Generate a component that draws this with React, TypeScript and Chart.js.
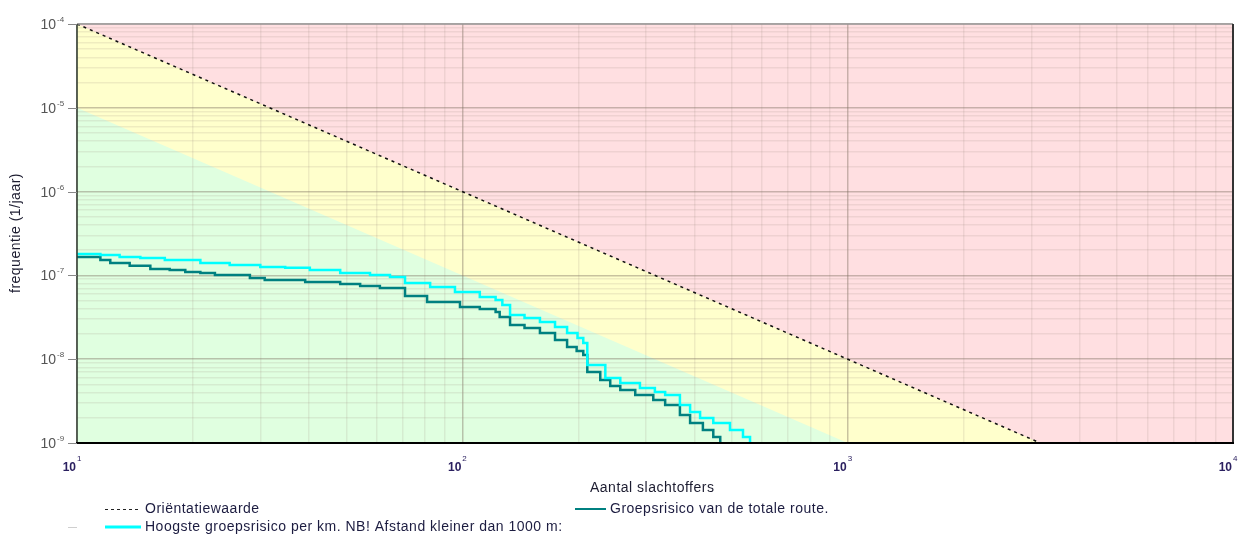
import React, { useEffect, useRef } from "react";
import { Chart, registerables } from "chart.js";

Chart.register(...registerables);

// ---- data ----
const X_DECADES = [10, 100, 1000, 10000];
const X_EXPONENTS = ["1", "2", "3", "4"];
const Y_DECADES = [1e-9, 1e-8, 1e-7, 1e-6, 1e-5, 1e-4];
const Y_EXPONENTS = ["-9", "-8", "-7", "-6", "-5", "-4"];

const ORIENT_N = [10, 3162.3];
const ORIENT_F = [1e-4, 1e-9];
const LOWER_N = [10, 1000];
const LOWER_F = [1e-5, 1e-9];

const HOOGSTE_N = [10, 11.5, 12.9, 14.6, 16.9, 20.9, 24.9, 29.9, 34.7, 40.2, 48.2, 57.6, 64.9, 71.0, 82.5, 95.7, 111, 122, 127, 133, 145, 159, 174, 187, 199, 206, 211, 235, 257, 289, 316, 336, 367, 390, 414, 448, 495, 535, 558];
const HOOGSTE_F = [1.8e-7, 1.75e-7, 1.66e-7, 1.61e-7, 1.53e-7, 1.41e-7, 1.33e-7, 1.26e-7, 1.23e-7, 1.16e-7, 1.07e-7, 1.01e-7, 9.58e-8, 8.11e-8, 7.27e-8, 6.34e-8, 5.52e-8, 5.09e-8, 4.43e-8, 3.37e-8, 3.1e-8, 2.78e-8, 2.42e-8, 2.05e-8, 1.79e-8, 1.56e-8, 8.53e-9, 5.97e-9, 5.2e-9, 4.53e-9, 4.06e-9, 3.74e-9, 2.84e-9, 2.34e-9, 1.99e-9, 1.73e-9, 1.43e-9, 1.18e-9, 1.0e-9];

const TOTAAL_N = [10, 11.5, 12.2, 13.7, 15.5, 17.4, 19.1, 20.9, 22.8, 28.1, 30.7, 39.1, 48.2, 54.3, 61.1, 71.0, 81.0, 98.6, 111, 122, 125, 133, 145, 159, 174, 187, 198, 206, 211, 228, 242, 257, 281, 313, 336, 367, 390, 421, 448, 467];
const TOTAAL_F = [1.66e-7, 1.53e-7, 1.41e-7, 1.3e-7, 1.19e-7, 1.16e-7, 1.1e-7, 1.07e-7, 1.01e-7, 9.31e-8, 8.82e-8, 8.34e-8, 7.89e-8, 7.47e-8, 7.07e-8, 5.68e-8, 4.82e-8, 4.2e-8, 3.97e-8, 3.66e-8, 3.19e-8, 2.56e-8, 2.36e-8, 2.05e-8, 1.69e-8, 1.4e-8, 1.25e-8, 1.12e-8, 7.04e-9, 5.65e-9, 4.79e-9, 4.29e-9, 3.74e-9, 3.26e-9, 2.84e-9, 2.16e-9, 1.73e-9, 1.43e-9, 1.18e-9, 1.0e-9];

const LABEL_ORIENT = "Oriëntatiewaarde";
const LABEL_TOTAAL = "Groepsrisico van de totale route.";
const LABEL_HOOGSTE = "Hoogste groepsrisico per km. NB! Afstand kleiner dan 1000 m:";
const X_TITLE = "Aantal slachtoffers";
const Y_TITLE = "frequentie (1/jaar)";

const FONT = '"Liberation Sans", Arial, sans-serif';

const pts = (xs: number[], ys: number[]) => xs.map((x, i) => ({ x, y: ys[i] }));
const isDecade = (v: number) => Math.abs(Math.log10(v) - Math.round(Math.log10(v))) < 1e-6;

function logTicks(minDec: number, maxDec: number) {
  const out: { value: number }[] = [];
  for (let e = minDec; e < maxDec; e++) {
    for (let k = 1; k <= 9; k++) out.push({ value: k * Math.pow(10, e) });
  }
  out.push({ value: Math.pow(10, maxDec) });
  return out;
}

const zonesPlugin = {
  id: "zones",
  beforeDraw(chart: any) {
    const { ctx, chartArea: a, scales } = chart;
    const xs = scales.x, ys = scales.y;
    const px = (v: number) => xs.getPixelForValue(v);
    const py = (v: number) => ys.getPixelForValue(v);
    ctx.save();
    ctx.beginPath();
    ctx.rect(a.left, a.top, a.right - a.left, a.bottom - a.top);
    ctx.clip();
    ctx.fillStyle = "#FFDFE1";
    ctx.fillRect(a.left, a.top, a.right - a.left, a.bottom - a.top);
    ctx.fillStyle = "#FFFFCC";
    ctx.beginPath();
    ctx.moveTo(px(ORIENT_N[0]), py(ORIENT_F[0]));
    ctx.lineTo(px(ORIENT_N[1]), py(ORIENT_F[1]));
    ctx.lineTo(a.left, a.bottom);
    ctx.closePath();
    ctx.fill();
    ctx.fillStyle = "#E0FFE0";
    ctx.beginPath();
    ctx.moveTo(px(LOWER_N[0]), py(LOWER_F[0]));
    ctx.lineTo(px(LOWER_N[1]), py(LOWER_F[1]));
    ctx.lineTo(a.left, a.bottom);
    ctx.closePath();
    ctx.fill();
    ctx.restore();
  },
};

const decorPlugin = {
  id: "decor",
  afterDraw(chart: any) {
    const { ctx, chartArea: a, scales } = chart;
    const xs = scales.x, ys = scales.y;
    ctx.save();
    ctx.lineCap = "butt";
    ctx.strokeStyle = "#9a9a9a";
    ctx.lineWidth = 1.5;
    ctx.beginPath(); ctx.moveTo(a.left, a.top); ctx.lineTo(a.right, a.top); ctx.stroke();
    ctx.strokeStyle = "#2f3b30";
    ctx.lineWidth = 1.5;
    ctx.beginPath(); ctx.moveTo(a.left, a.top); ctx.lineTo(a.left, a.bottom); ctx.stroke();
    ctx.strokeStyle = "#333";
    ctx.lineWidth = 2;
    ctx.beginPath(); ctx.moveTo(a.right, a.top); ctx.lineTo(a.right, a.bottom); ctx.stroke();
    ctx.strokeStyle = "#000";
    ctx.lineWidth = 2;
    ctx.beginPath(); ctx.moveTo(a.left - 1, a.bottom); ctx.lineTo(a.right + 1, a.bottom); ctx.stroke();

    // y ticks + labels
    ctx.strokeStyle = "#888";
    ctx.lineWidth = 1;
    Y_DECADES.forEach((v, i) => {
      const y = Math.round(ys.getPixelForValue(v)) + 0.5;
      ctx.beginPath(); ctx.moveTo(a.left - 9, y); ctx.lineTo(a.left, y); ctx.stroke();
      ctx.fillStyle = "#555";
      ctx.font = `14px ${FONT}`;
      ctx.textAlign = "right";
      ctx.textBaseline = "middle";
      ctx.fillText("10", a.left - 21, y + 1);
      ctx.font = `8px ${FONT}`;
      ctx.textAlign = "left";
      ctx.fillText(Y_EXPONENTS[i], a.left - 20, y - 5);
    });

    // x labels
    X_DECADES.forEach((v, i) => {
      const x = xs.getPixelForValue(v);
      ctx.fillStyle = "#2b2060";
      ctx.font = `bold 12px ${FONT}`;
      ctx.textAlign = "right";
      ctx.textBaseline = "middle";
      ctx.fillText("10", x - 1, a.bottom + 25);
      ctx.font = `8px ${FONT}`;
      ctx.textAlign = "left";
      ctx.fillText(X_EXPONENTS[i], x, a.bottom + 16);
    });

    const ls = (ctx as any);
    // axis titles
    ctx.fillStyle = "#1c1c30";
    ctx.font = `14px ${FONT}`;
    ls.letterSpacing = "0.5px";
    ctx.textAlign = "left";
    ctx.textBaseline = "middle";
    ctx.fillText(X_TITLE, 590, 488);
    ctx.save();
    ctx.translate(16, 233);
    ctx.rotate(-Math.PI / 2);
    ctx.textAlign = "center";
    ctx.fillText(Y_TITLE, 0, 0);
    ctx.restore();

    // legend
    ctx.font = `14px ${FONT}`;
    ls.letterSpacing = "0.5px";
    ctx.fillStyle = "#1c1c40";
    ctx.strokeStyle = "#222";
    ctx.lineWidth = 1;
    ctx.setLineDash([3, 3]);
    ctx.beginPath(); ctx.moveTo(105, 509.5); ctx.lineTo(141, 509.5); ctx.stroke();
    ctx.setLineDash([]);
    ctx.fillText(LABEL_ORIENT, 145, 509);
    ctx.strokeStyle = "#008080";
    ctx.lineWidth = 2;
    ctx.beginPath(); ctx.moveTo(575, 509); ctx.lineTo(606, 509); ctx.stroke();
    ctx.fillText(LABEL_TOTAAL, 610, 509);
    ctx.strokeStyle = "#cfcfcf";
    ctx.lineWidth = 1;
    ctx.beginPath(); ctx.moveTo(68, 527.5); ctx.lineTo(77, 527.5); ctx.stroke();
    ctx.strokeStyle = "#00FFFF";
    ctx.lineWidth = 3;
    ctx.beginPath(); ctx.moveTo(105, 527); ctx.lineTo(141, 527); ctx.stroke();
    ctx.fillText(LABEL_HOOGSTE, 145, 527);
    ls.letterSpacing = "0px";
    ctx.restore();
  },
};

export default function App() {
  const ref = useRef<HTMLCanvasElement | null>(null);
  useEffect(() => {
    document.body.style.margin = "0";
    const canvas = ref.current!;
    const gridColor = (c: any) =>
      c.tick && isDecade(c.tick.value) ? "rgba(125,110,95,0.42)" : "rgba(160,140,130,0.17)";
    const chart = new Chart(canvas, {
      type: "line",
      data: {
        datasets: [
          {
            label: LABEL_ORIENT,
            data: pts(ORIENT_N, ORIENT_F),
            borderColor: "#111",
            borderWidth: 1.5,
            borderDash: [3, 4],
            pointRadius: 0,
            fill: false,
          },
          {
            label: LABEL_HOOGSTE,
            data: pts(HOOGSTE_N, HOOGSTE_F),
            borderColor: "#00FFFF",
            borderWidth: 2.5,
            stepped: true,
            pointRadius: 0,
            fill: false,
          },
          {
            label: LABEL_TOTAAL,
            data: pts(TOTAAL_N, TOTAAL_F),
            borderColor: "#008080",
            borderWidth: 2.5,
            stepped: true,
            pointRadius: 0,
            fill: false,
          },
        ],
      },
      options: {
        animation: false,
        responsive: false,
        devicePixelRatio: 1,
        layout: { padding: { top: 24, right: 12, left: 0, bottom: 0 } },
        plugins: { legend: { display: false }, tooltip: { enabled: false } },
        scales: {
          x: {
            type: "logarithmic",
            min: 10,
            max: 10000,
            ticks: { display: false },
            border: { display: false },
            grid: { color: gridColor, lineWidth: 1.5, drawTicks: false },
            afterBuildTicks: (s: any) => { s.ticks = logTicks(1, 4); },
            afterFit: (s: any) => { s.height = 95; },
          },
          y: {
            type: "logarithmic",
            min: 1e-9,
            max: 1e-4,
            ticks: { display: false },
            border: { display: false },
            grid: { color: gridColor, lineWidth: 1.5, drawTicks: false },
            afterBuildTicks: (s: any) => { s.ticks = logTicks(-9, -4); },
            afterFit: (s: any) => { s.width = 77; },
          },
        },
      },
      plugins: [zonesPlugin, decorPlugin],
    } as any);
    return () => chart.destroy();
  }, []);
  return (
    <canvas
      ref={ref}
      width={1245}
      height={538}
      style={{ display: "block", width: 1245, height: 538 }}
    />
  );
}
